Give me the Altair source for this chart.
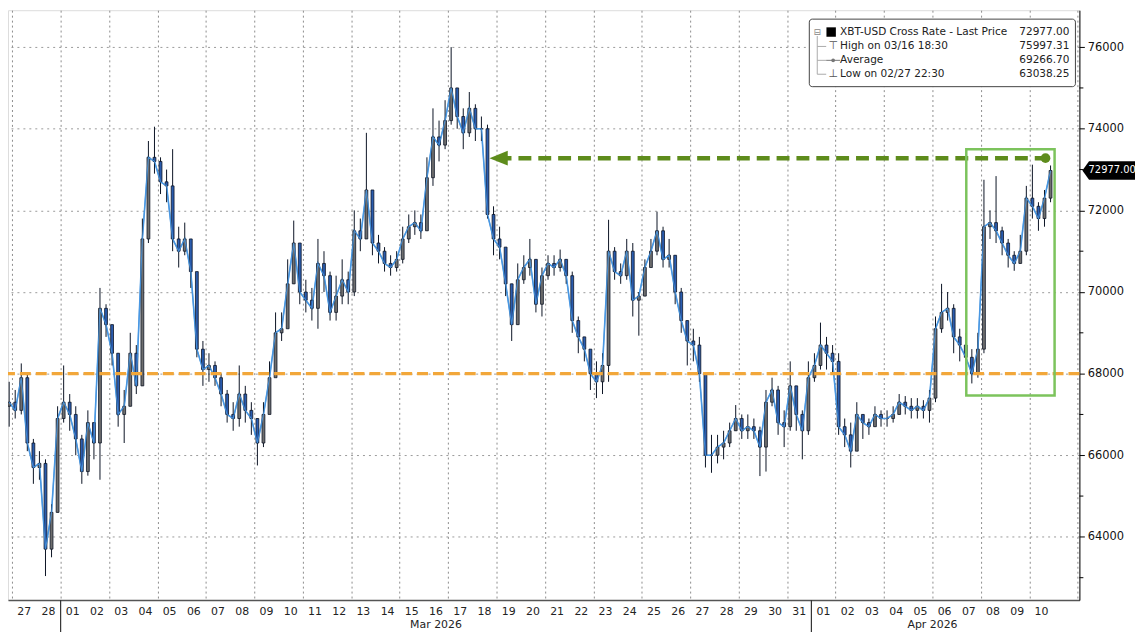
import altair as alt
import pandas as pd

# ---------------- data (6-hour bars) ----------------
T0 = pd.Timestamp("2026-02-27 00:00")
FIRST_BAR = "2026-02-26 18:00"
BAR_HOURS = 6
OPEN0 = 67200

CLOSE = [
    67300,
    67100, 67900, 66300, 65700,   # Feb 27
    65800, 63700, 64600, 66900,   # Feb 28
    67300, 67000, 66400, 65600,   # Mar 01
    66800, 66300, 69600, 69200,   # Mar 02
    68500, 67000, 67200, 68500,   # Mar 03
    67700, 71300, 73300, 73200,   # Mar 04
    72700, 72600, 71300, 71000,   # Mar 05
    71300, 70500, 68600, 68100,   # Mar 06
    68200, 67900, 67500, 67000,   # Mar 07
    66900, 67500, 67100, 66900,   # Mar 08
    66300, 67000, 67900, 69000,   # Mar 09
    69100, 70200, 71200, 70000,   # Mar 10
    69800, 69600, 70700, 70400,   # Mar 11
    69500, 69900, 70300, 70000,   # Mar 12
    71500, 71300, 72500, 71200,   # Mar 13
    71000, 70700, 70600, 70800,   # Mar 14
    71300, 71600, 71700, 71500,   # Mar 15
    72800, 73800, 73600, 74200,   # Mar 16
    75000, 74300, 73900, 74500,   # Mar 17
    74000, 74000, 71900, 71300,   # Mar 18
    71100, 70200, 69200, 70300,   # Mar 19
    70600, 70800, 69700, 70400,   # Mar 20
    70700, 70600, 70800, 70400,   # Mar 21
    69300, 68900, 68600, 68000,   # Mar 22
    67800, 68200, 71000, 70500,   # Mar 23
    70400, 71000, 69800, 69900,   # Mar 24
    70600, 71000, 71500, 70800,   # Mar 25
    70900, 70000, 69300, 68800,   # Mar 26
    68700, 68000, 66000, 66000,   # Mar 27
    66200, 66300, 66600, 66900,   # Mar 28
    66600, 66700, 66600, 66200,   # Mar 29
    67300, 67600, 66800, 66700,   # Mar 30
    67700, 67000, 66600, 67900,   # Mar 31
    68200, 68700, 68500, 68300,   # Apr 01
    66700, 66500, 66100, 67000,   # Apr 02
    66800, 66700, 67000, 66900,   # Apr 03
    66900, 67000, 67300, 67200,   # Apr 04
    67100, 67200, 67100, 67400,   # Apr 05
    69100, 69500, 69600, 68900,   # Apr 06
    68700, 68400, 68000, 68600,   # Apr 07
    71600, 71700, 71500, 71200,   # Apr 08
    70900, 70700, 71000, 72300,   # Apr 09
    72100, 71800, 72300, 72977,   # Apr 10
]

HIGH = [
    67800,
    67600, 68250, 68000, 66400,
    66100, 65900, 64800, 67200,
    68200, 67500, 67200, 66500,
    67100, 66800, 70100, 69700,
    69200, 68500, 67600, 69000,
    68700, 71800, 73700, 74050,
    73300, 73000, 73500, 71600,
    71700, 71200, 70400, 68800,
    68500, 68300, 68000, 67600,
    67300, 68200, 67700, 67300,
    66900, 67300, 68300, 69500,
    69500, 70800, 71750, 71000,
    70300, 70100, 71300, 71000,
    70500, 70400, 70800, 70500,
    72000, 71800, 73900, 72400,
    71400, 71100, 70900, 71000,
    71600, 71900, 72000, 71900,
    73300, 74500, 74200, 74700,
    76000, 75000, 74500, 74900,
    74600, 74300, 74100, 72100,
    71600, 71000, 70200, 70700,
    70900, 71300, 70800, 70600,
    70900, 70900, 71040, 70800,
    70500, 69400, 68900, 68500,
    68300, 68500, 71770, 71100,
    70700, 71300, 71200, 70000,
    70800, 71300, 71970, 71600,
    71300, 70900, 70100, 69300,
    69100, 68900, 68000, 66500,
    66500, 66600, 66800, 67230,
    67000, 67000, 66900, 66700,
    67600, 67900, 67700, 67100,
    68300, 67700, 67100, 68300,
    68500, 69250, 68900, 68700,
    68500, 66900, 66800, 67300,
    67000, 66900, 67200, 67100,
    67100, 67200, 67500, 67450,
    67400, 67400, 67350, 67600,
    69400, 70200, 70000, 69700,
    69100, 69000, 68600, 69000,
    72750, 72000, 72840, 71600,
    71300, 71000, 71400, 72600,
    73120, 72200, 72500, 73100,
]

LOW = [
    66700,
    66900, 67000, 66100, 65300,
    65400, 63040, 63500, 64600,
    66800, 66600, 66000, 65300,
    65500, 65900, 65400, 68900,
    68200, 66700, 66300, 67200,
    67500, 67700, 71200, 72900,
    72400, 72200, 71000, 70600,
    70900, 70100, 68400, 67700,
    67800, 67700, 67200, 66800,
    66600, 66700, 66800, 66500,
    65750, 66200, 67300, 68200,
    68800, 69300, 70200, 69700,
    69500, 69300, 69100, 70000,
    69300, 69300, 69700, 69700,
    69900, 71000, 71300, 70900,
    70700, 70500, 70400, 70500,
    70700, 71200, 71400, 71300,
    71500, 72600, 73200, 73500,
    74100, 74000, 73500, 73800,
    73700, 73700, 71800, 70900,
    70800, 69900, 68800, 69200,
    70200, 70400, 69500, 69400,
    70300, 70400, 70500, 70200,
    69000, 68500, 68300, 67600,
    67400, 67500, 67800, 70300,
    70200, 70300, 69400, 68930,
    69900, 70700, 70900, 70600,
    70600, 69700, 69000, 68200,
    68300, 67800, 65700, 65570,
    65800, 65900, 66200, 66600,
    66400, 66400, 66400, 65490,
    65600, 67200, 66500, 66200,
    66600, 66600, 65900, 66500,
    67800, 68100, 68100, 68000,
    66500, 66200, 65700, 66500,
    66400, 66500, 66700, 66700,
    66700, 66800, 67000, 67000,
    66900, 66900, 66900, 66800,
    67300, 69000, 69300, 68500,
    68300, 68200, 67760, 67900,
    68500, 71300, 71200, 70900,
    70600, 70520, 70700, 70900,
    71800, 71500, 71600, 72200,
]

DAY_LABELS = ["27", "28",
              "01", "02", "03", "04", "05", "06", "07", "08", "09", "10",
              "11", "12", "13", "14", "15", "16", "17", "18", "19", "20",
              "21", "22", "23", "24", "25", "26", "27", "28", "29", "30", "31",
              "01", "02", "03", "04", "05", "06", "07", "08", "09", "10"]
FIRST_DAY = "2026-02-27"
MONTHS = ["Mar 2026", "Apr 2026"]
MONTH_STARTS = ["2026-03-01", "2026-04-01"]
MONTH_ENDS = ["2026-04-01", "2026-04-11"]

Y_TICKS = [64000, 66000, 68000, 70000, 72000, 74000, 76000]
Y_MINOR = [63000, 65000, 67000, 69000, 71000, 73000, 75000]

LEGEND_LABELS = ["XBT-USD Cross Rate - Last Price", "High on 03/16 18:30",
                 "Average", "Low on 02/27 22:30"]
LEGEND_VALUES = ["72977.00", "75997.31", "69266.70", "63038.25"]
LAST_PRICE = 72977.00
SUPPORT = 68000
ARROW_LEVEL = 73280
ARROW_FROM = "2026-03-19 02:00"
ARROW_TO = "2026-04-10 16:00"
BOX_FROM, BOX_TO = "2026-04-07 09:30", "2026-04-11 01:00"
BOX_TOP, BOX_BOTTOM = 73500, 67465

X_DOMAIN = ("2026-02-26 19:51", "2026-04-12 01:35")
Y_DOMAIN = [62453, 76905]

# ---------------- build tables ----------------
def hrs(ts):
    return (pd.Timestamp(ts) - T0) / pd.Timedelta(hours=1)

start = hrs(FIRST_BAR)
n = len(CLOSE)
opens = [OPEN0] + CLOSE[:-1]
bars = pd.DataFrame({
    "h": [start + BAR_HOURS * i + BAR_HOURS / 2 for i in range(n)],
    "h0": [start + BAR_HOURS * i + 1.6 for i in range(n)],
    "h1": [start + BAR_HOURS * i + BAR_HOURS - 1.6 for i in range(n)],
    "open": opens, "close": CLOSE, "high": HIGH, "low": LOW,
})
bars["dir"] = ["up" if c >= o else "down" for o, c in zip(opens, CLOSE)]

d0 = hrs(FIRST_DAY)
days = pd.DataFrame({"h": [d0 + 12 + 24 * k for k in range(len(DAY_LABELS))],
                     "label": DAY_LABELS})
months = pd.DataFrame({"h": [(hrs(a) + hrs(b)) / 2 for a, b in zip(MONTH_STARTS, MONTH_ENDS)],
                       "label": MONTHS})
seps = pd.DataFrame({"h": [hrs(a) for a in MONTH_STARTS]})
minor = pd.DataFrame({"v": Y_MINOR})
ONE = pd.DataFrame({"k": [0]})

W, H = 1079, 594
FONT = "DejaVu Sans"

xs = alt.Scale(domain=[hrs(X_DOMAIN[0]), hrs(X_DOMAIN[1])], nice=False, zero=False)
ys = alt.Scale(domain=Y_DOMAIN, nice=False, zero=False)
grid_days = [d0 + 24 * k for k in range(46)]
xaxis = alt.Axis(values=grid_days, labels=False, ticks=False, grid=True,
                 gridDash=[2, 3], gridColor="#8c8c8c", gridWidth=1,
                 domainColor="#555", domainWidth=1.5, title=None)
yaxis = alt.Axis(orient="right", values=Y_TICKS, format="d", grid=True,
                 gridDash=[2, 4], gridColor="#9a9a9a", tickSize=5, tickColor="#000",
                 domainColor="#000", labelFont=FONT, labelFontSize=11.5,
                 labelColor="#111", labelPadding=3, title=None)

def X(f):
    return alt.X(f, type="quantitative", scale=xs, axis=xaxis, title=None)

def Y(f):
    return alt.Y(f, type="quantitative", scale=ys, axis=yaxis, title=None)

line = alt.Chart(bars).mark_line(color="#4a98e2", strokeWidth=1.6).encode(
    x=X("h"), y=Y("close"))
wicks = alt.Chart(bars).mark_rule(color="#0c1424", strokeWidth=1).encode(
    x=X("h"), y=Y("low"), y2="high")
bodies = alt.Chart(bars).mark_rect(stroke="#0c1424", strokeWidth=0.8).encode(
    x=X("h0"), x2="h1", y=Y("open"), y2="close",
    color=alt.Color("dir:N", scale=alt.Scale(domain=["up", "down"],
                                             range=["#6e6e6e", "#2a5cae"]), legend=None))
line_top = alt.Chart(bars).mark_line(color="#4a98e2", strokeWidth=1.1, opacity=0.85).encode(
    x=X("h"), y=Y("close"))

support = alt.Chart(ONE).mark_rule(color="#f2a73a", strokeWidth=3.5,
                                   strokeDash=[11, 5]).encode(y=alt.datum(SUPPORT))
arrow_line = alt.Chart(ONE).mark_rule(color="#5e8c1c", strokeWidth=4.5,
                                      strokeDash=[13, 7]).encode(
    x=alt.datum(hrs(ARROW_FROM)), x2=alt.datum(hrs(ARROW_TO)), y=alt.datum(ARROW_LEVEL))
arrow_head = alt.Chart(ONE).mark_point(shape="M -1 0 L 1 -0.8 L 1 0.8 Z", size=340,
                                       filled=True, color="#5e8c1c", opacity=1).encode(
    x=alt.datum(hrs(ARROW_FROM)), y=alt.datum(ARROW_LEVEL))
arrow_dot = alt.Chart(ONE).mark_circle(size=95, color="#5e8c1c", opacity=1).encode(
    x=alt.datum(hrs(ARROW_TO)), y=alt.datum(ARROW_LEVEL))
box = alt.Chart(ONE).mark_rect(filled=False, stroke="#7cc35c", strokeWidth=2.5).encode(
    x=alt.datum(hrs(BOX_FROM)), x2=alt.datum(hrs(BOX_TO)),
    y=alt.datum(BOX_TOP), y2=alt.datum(BOX_BOTTOM))

minor_ticks = alt.Chart(minor).mark_rule(color="#000").encode(
    x=alt.value(W), x2=alt.value(W + 4), y=alt.Y("v:Q", scale=ys, title=None))

day_text = alt.Chart(days).mark_text(font=FONT, fontSize=11, color="#222",
                                     baseline="middle").encode(
    x=alt.X("h:Q", scale=xs, title=None), y=alt.value(H + 12), text="label:N")
month_text = alt.Chart(months).mark_text(font=FONT, fontSize=11, color="#222",
                                         baseline="middle").encode(
    x=alt.X("h:Q", scale=xs, title=None), y=alt.value(H + 25), text="label:N")
month_sep = alt.Chart(seps).mark_rule(color="#333", strokeWidth=1.2).encode(
    x=alt.X("h:Q", scale=xs, title=None), y=alt.value(H), y2=alt.value(H + 40))

tag = alt.Chart(ONE).mark_point(
    shape="M -1 0 L -0.76 -0.33 L 1 -0.33 L 1 0.33 L -0.76 0.33 Z",
    size=3136, filled=True, color="#000", opacity=1).encode(
    x=alt.value(W + 31), y=alt.datum(LAST_PRICE))
tag_text = alt.Chart(ONE).mark_text(text=f"{LAST_PRICE:.2f}", font=FONT, fontSize=10,
                                    color="#fff", align="center", baseline="middle").encode(
    x=alt.value(W + 33), y=alt.datum(LAST_PRICE))

# legend box (top right)
LX0, LX1, LY0, LY1 = 807, 1075, 9, 77
ROWS = [22, 36.5, 50.5, 64.5]
legend_layers = [
    alt.Chart(ONE).mark_rect(fill="#fff", stroke="#444", strokeWidth=1, cornerRadius=3).encode(
        x=alt.value(LX0), x2=alt.value(LX1), y=alt.value(LY0), y2=alt.value(LY1)),
    alt.Chart(ONE).mark_rule(color="#aaa", strokeWidth=1).encode(
        x=alt.value(815), y=alt.value(26), y2=alt.value(ROWS[3])),
]
for r in ROWS[1:]:
    legend_layers.append(alt.Chart(ONE).mark_rule(color="#aaa", strokeWidth=1).encode(
        x=alt.value(815), x2=alt.value(824), y=alt.value(r)))
legend_layers += [
    alt.Chart(ONE).mark_square(size=90, color="#000", opacity=1).encode(
        x=alt.value(829), y=alt.value(ROWS[0])),
    alt.Chart(ONE).mark_text(text="\u229f", font=FONT, fontSize=9, color="#888").encode(
        x=alt.value(815), y=alt.value(ROWS[0])),
    alt.Chart(ONE).mark_text(text="\u22a4", font=FONT, fontSize=11, color="#555").encode(
        x=alt.value(831), y=alt.value(ROWS[1])),
    alt.Chart(ONE).mark_rule(color="#777", strokeWidth=1).encode(
        x=alt.value(824), x2=alt.value(838), y=alt.value(ROWS[2])),
    alt.Chart(ONE).mark_circle(size=14, color="#777", opacity=1).encode(
        x=alt.value(831), y=alt.value(ROWS[2])),
    alt.Chart(ONE).mark_text(text="\u22a5", font=FONT, fontSize=11, color="#555").encode(
        x=alt.value(831), y=alt.value(ROWS[3])),
]
for r, lab, val in zip(ROWS, LEGEND_LABELS, LEGEND_VALUES):
    legend_layers.append(alt.Chart(ONE).mark_text(
        text=lab, font=FONT, fontSize=10.6, color="#222", align="left",
        baseline="middle").encode(x=alt.value(838), y=alt.value(r)))
    legend_layers.append(alt.Chart(ONE).mark_text(
        text=val, font=FONT, fontSize=10.6, color="#222", align="right",
        baseline="middle").encode(x=alt.value(1069), y=alt.value(r)))

chart = alt.layer(
    line, wicks, bodies, line_top, support, arrow_line, arrow_head, arrow_dot, box,
    minor_ticks, day_text, month_text, month_sep, tag, tag_text, *legend_layers
).properties(
    width=W, height=H,
    autosize=alt.AutoSizeParams(type="none"),
    padding={"left": 0, "top": 0, "right": 56, "bottom": 30},
).configure_view(strokeWidth=0).configure(background="#ffffff")

chart.save("out.html", embed_options={"renderer": "svg", "actions": False})
